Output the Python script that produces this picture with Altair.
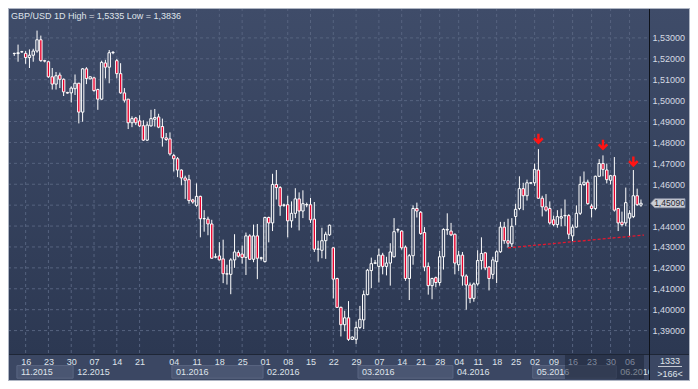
import altair as alt
import pandas as pd

# ---------------- data (daily GBP/USD candles) ----------------
O = [1.5225,1.5225,1.5233,1.5226,1.5206,1.5217,1.5237,1.5291,1.5191,1.5186,
     1.5114,1.5079,1.5122,1.5102,1.5039,1.5037,1.5057,1.5083,1.4945,1.5152,
     1.5104,1.5109,1.5053,1.5007,1.5180,1.5160,1.5229,1.5191,1.5129,1.5037,
     1.5007,1.4894,1.4917,1.4903,1.4880,1.4811,1.4879,1.4911,1.4922,1.4876,
     1.4822,1.4817,1.4737,1.4722,1.4668,1.4630,1.4622,1.4525,1.4499,1.4542,
     1.4435,1.4433,1.4410,1.4251,1.4257,1.4243,1.4172,1.4169,1.4238,1.4273,
     1.4266,1.4250,1.4353,1.4241,1.4353,1.4246,1.4230,1.4441,1.4415,1.4599,
     1.4584,1.4499,1.4502,1.4425,1.4461,1.4530,1.4472,1.4501,1.4502,1.4433,
     1.4289,1.4284,1.4330,1.4358,1.4296,1.4149,1.4011,1.3928,1.3961,1.3858,
     1.3858,1.3915,1.3951,1.4072,1.4187,1.4222,1.4207,1.4261,1.4207,1.4223,
     1.4253,1.4381,1.4376,1.4299,1.4149,1.4258,1.4484,1.4466,1.4369,1.4207,
     1.4115,1.4153,1.4130,1.4253,1.4381,1.4376,1.4361,1.4215,1.4261,1.4161,
     1.4118,1.4054,1.4123,1.4235,1.4272,1.4204,1.4169,1.4230,1.4277,1.4395,
     1.4330,1.4315,1.4446,1.4484,1.4579,1.4545,1.4605,1.4607,1.4668,1.4533,
     1.4492,1.4484,1.4430,1.4407,1.4438,1.4449,1.4450,1.4353,1.4395,1.4461,
     1.4599,1.4610,1.4496,1.4484,1.4638,1.4699,1.4668,1.4619,1.4641,1.4484,
     1.4419,1.4415,1.4438,1.4445,1.4545,1.4500]
H = [1.5229,1.5268,1.5238,1.5237,1.5245,1.5248,1.5335,1.5311,1.5195,1.5191,
     1.5156,1.5137,1.5134,1.5106,1.5042,1.5068,1.5125,1.5085,1.5156,1.5160,
     1.5116,1.5114,1.5057,1.5191,1.5195,1.5242,1.5237,1.5199,1.5179,1.5060,
     1.5007,1.4925,1.4922,1.4930,1.4906,1.4899,1.4956,1.4960,1.4937,1.4914,
     1.4845,1.4848,1.4745,1.4730,1.4671,1.4641,1.4645,1.4530,1.4604,1.4545,
     1.4476,1.4445,1.4430,1.4269,1.4323,1.4335,1.4215,1.4246,1.4361,1.4284,
     1.4307,1.4369,1.4361,1.4407,1.4410,1.4253,1.4445,1.4445,1.4650,1.4668,
     1.4591,1.4507,1.4545,1.4518,1.4581,1.4561,1.4571,1.4512,1.4535,1.4515,
     1.4330,1.4392,1.4373,1.4407,1.4299,1.4153,1.4015,1.3995,1.4041,1.3872,
     1.3943,1.4018,1.4092,1.4195,1.4249,1.4238,1.4292,1.4272,1.4253,1.4318,
     1.4438,1.4389,1.4379,1.4307,1.4266,1.4499,1.4512,1.4472,1.4395,1.4226,
     1.4153,1.4158,1.4281,1.4389,1.4461,1.4415,1.4364,1.4281,1.4276,1.4169,
     1.4130,1.4130,1.4284,1.4346,1.4276,1.4208,1.4253,1.4284,1.4420,1.4420,
     1.4435,1.4438,1.4507,1.4638,1.4607,1.4622,1.4610,1.4699,1.4768,1.4545,
     1.4553,1.4518,1.4450,1.4476,1.4484,1.4527,1.4457,1.4407,1.4499,1.4638,
     1.4661,1.4622,1.4507,1.4641,1.4720,1.4738,1.4699,1.4645,1.4730,1.4487,
     1.4469,1.4584,1.4476,1.4668,1.4579,1.4527]
L = [1.5214,1.5186,1.5229,1.5176,1.5156,1.5186,1.5229,1.5186,1.5183,1.5109,
     1.5053,1.5053,1.5060,1.5022,1.5033,1.4991,1.5027,1.4891,1.4899,1.5079,
     1.5102,1.5042,1.4956,1.5002,1.5106,1.5083,1.5222,1.5106,1.5033,1.4991,
     1.4864,1.4873,1.4883,1.4873,1.4807,1.4807,1.4876,1.4876,1.4868,1.4780,
     1.4807,1.4737,1.4661,1.4634,1.4595,1.4530,1.4507,1.4507,1.4492,1.4346,
     1.4373,1.4356,1.4244,1.4246,1.4236,1.4127,1.4120,1.4074,1.4200,1.4250,
     1.4220,1.4166,1.4238,1.4227,1.4146,1.4235,1.4226,1.4322,1.4376,1.4527,
     1.4449,1.4492,1.4346,1.4392,1.4438,1.4379,1.4438,1.4490,1.4415,1.4276,
     1.4230,1.4246,1.4243,1.4353,1.4054,1.4008,1.3872,1.3897,1.3851,1.3855,
     1.3836,1.3907,1.3907,1.4069,1.4103,1.4218,1.4130,1.4169,1.4164,1.4115,
     1.4250,1.4369,1.4287,1.4138,1.4046,1.4215,1.4441,1.4358,1.4184,1.4072,
     1.4050,1.4107,1.4115,1.4192,1.4358,1.4352,1.4169,1.4184,1.4115,1.4000,
     1.4031,1.4038,1.4115,1.4192,1.4189,1.4092,1.4146,1.4127,1.4272,1.4315,
     1.4297,1.4300,1.4404,1.4476,1.4476,1.4522,1.4602,1.4592,1.4530,1.4446,
     1.4469,1.4407,1.4399,1.4392,1.4399,1.4399,1.4338,1.4327,1.4392,1.4453,
     1.4592,1.4502,1.4441,1.4476,1.4635,1.4638,1.4604,1.4599,1.4469,1.4376,
     1.4398,1.4399,1.4353,1.4438,1.4496,1.4492]
C = [1.5226,1.5229,1.5234,1.5206,1.5217,1.5237,1.5291,1.5191,1.5189,1.5114,
     1.5079,1.5119,1.5102,1.5042,1.5036,1.5060,1.5083,1.4945,1.5152,1.5106,
     1.5114,1.5048,1.5007,1.5183,1.5160,1.5229,1.5231,1.5129,1.5037,1.5002,
     1.4894,1.4914,1.4894,1.4879,1.4811,1.4883,1.4914,1.4919,1.4873,1.4822,
     1.4814,1.4745,1.4722,1.4668,1.4630,1.4619,1.4522,1.4515,1.4542,1.4435,
     1.4436,1.4410,1.4246,1.4253,1.4238,1.4172,1.4170,1.4238,1.4276,1.4256,
     1.4250,1.4353,1.4241,1.4353,1.4246,1.4248,1.4441,1.4415,1.4599,1.4584,
     1.4496,1.4501,1.4425,1.4461,1.4530,1.4472,1.4507,1.4503,1.4430,1.4289,
     1.4290,1.4330,1.4361,1.4404,1.4146,1.4011,1.3928,1.3961,1.3858,1.3869,
     1.3915,1.3954,1.4072,1.4189,1.4220,1.4224,1.4261,1.4207,1.4223,1.4276,
     1.4373,1.4383,1.4296,1.4149,1.4258,1.4484,1.4472,1.4364,1.4204,1.4115,
     1.4149,1.4130,1.4253,1.4384,1.4384,1.4358,1.4223,1.4261,1.4161,1.4118,
     1.4054,1.4123,1.4235,1.4269,1.4200,1.4149,1.4238,1.4277,1.4395,1.4330,
     1.4318,1.4399,1.4480,1.4579,1.4545,1.4607,1.4607,1.4671,1.4533,1.4492,
     1.4476,1.4415,1.4407,1.4445,1.4445,1.4451,1.4361,1.4395,1.4461,1.4599,
     1.4610,1.4507,1.4484,1.4638,1.4699,1.4671,1.4622,1.4641,1.4476,1.4415,
     1.4407,1.4512,1.4461,1.4545,1.4502,1.4509]

# week ticks (bar index of each labelled day) and their labels
week_idx = [3, 9, 15, 21, 27, 33, 42, 48, 54, 60, 66, 72, 78, 84, 90, 96, 102, 107,
            112, 117, 122, 127, 132, 137, 142, 147, 152, 157, 162]
week_lbl = ["16", "23", "30", "07", "14", "21", "04", "11", "18", "25", "01", "08", "15", "22",
            "29", "07", "14", "21", "28", "04", "11", "18", "25", "02", "09", "16", "23", "30", "06"]

# months (bar index where each month begins)
month_start = [0.7, 15.5, 41.5, 65.5, 90.5, 115.5, 136.5, 158.5]
month_names = ["11.2015", "12.2015", "01.2016", "02.2016", "03.2016", "04.2016", "05.2016", "06.2016"]
month_boxed = [True, False, True, False, True, False, True, False]

# price grid / labels
grid_prices = [1.39, 1.40, 1.41, 1.42, 1.43, 1.44, 1.45, 1.46, 1.47, 1.48, 1.49, 1.50, 1.51, 1.52, 1.53]
label_prices = [p for p in grid_prices if p != 1.45]

# annotations
arrow_idx = [138, 155, 163]
arrow_price = [1.4815, 1.4786, 1.4706]
trend_idx = [130, 165.8]
trend_price = [1.4296, 1.4357]
current_price = 1.4509
sel_range = [145, 165.8]
x_domain = [-0.33, 165.8]
y_domain = [1.3788, 1.5443]

assert len(O) == len(H) == len(L) == len(C) == 166

# ---------------- layout ----------------
FONT = "Liberation Sans"
W, PH = 641, 346
RIGHT, BOTTOM = 41, 27
TW, TH = W + RIGHT, PH + BOTTOM
TXT = "#dfe3ea"

n = len(C)
df = pd.DataFrame({"i": list(range(n)), "o": O, "h": H, "l": L, "c": C})
df["top"] = df[["o", "c"]].max(axis=1)
df["bot"] = df[["o", "c"]].min(axis=1)
df["h"] = df[["h", "top"]].max(axis=1)
df["l"] = df[["l", "bot"]].min(axis=1)
df["up"] = df["c"] >= df["o"]

xs = alt.Scale(domain=x_domain, nice=False, zero=False)
ys = alt.Scale(domain=y_domain, nice=False, zero=False)
one = pd.DataFrame({"k": [0]})

label_expr = " : ".join(f"datum.value == {i} ? '{t}'" for i, t in zip(week_idx, week_lbl)) + " : ''"
XA = alt.Axis(
    values=week_idx, labelExpr=label_expr, domain=False, ticks=False, grid=False, title=None,
    labelFont=FONT, labelFontSize=9, labelPadding=3.5, labelOverlap=False, labelFlush=False,
    labelColor={"condition": {"test": f"datum.value >= {sel_range[0]}", "value": "#7f889c"}, "value": TXT},
    zindex=1)
YA = alt.Axis(
    orient="right", values=label_prices,
    labelExpr="replace(format(datum.value, '.5f'), '.', ',')",
    domain=False, ticks=False, grid=False, title=None, labelFont=FONT,
    labelFontSize=9, labelColor="#d5dae3", labelPadding=3, labelOverlap=False, zindex=1)


def X(f):
    return alt.X(f, scale=xs, axis=XA)


def Y(f):
    return alt.Y(f, scale=ys, axis=YA)


bg = alt.Chart(one).mark_rect(
    color=alt.LinearGradient(
        gradient="linear",
        stops=[alt.GradientStop(color="#3f4c69", offset=0), alt.GradientStop(color="#2c3852", offset=1)],
        x1=0, x2=0, y1=0, y2=1)
).encode(x=alt.value(0), x2=alt.value(TW), y=alt.value(0), y2=alt.value(PH))

strip = alt.Chart(one).mark_rect(color="#3b4763").encode(
    x=alt.value(0), x2=alt.value(TW), y=alt.value(PH), y2=alt.value(TH))

hgrid = alt.Chart(pd.DataFrame({"p": grid_prices})).mark_rule(
    color="#56637f", strokeDash=[3, 3], strokeWidth=1
).encode(y=Y("p:Q"), x=alt.value(0), x2=alt.value(W))

vgrid = alt.Chart(pd.DataFrame({"w": week_idx})).mark_rule(
    color="#56637f", strokeDash=[3, 3], strokeWidth=1
).encode(x=X("w:Q"), y=alt.value(0), y2=alt.value(PH))

base = alt.Chart(df)
wick_up = base.mark_rule(color="white", strokeWidth=1).encode(x=X("i:Q"), y=Y("h:Q"), y2="top:Q")
wick_dn = base.mark_rule(color="white", strokeWidth=1).encode(x=X("i:Q"), y=Y("bot:Q"), y2="l:Q")
bull = alt.Chart(df[df["up"]]).mark_bar(size=2.4, fillOpacity=0, stroke="white", strokeWidth=1).encode(
    x=X("i:Q"), y=Y("top:Q"), y2="bot:Q")
bear = alt.Chart(df[~df["up"]]).mark_bar(size=2.4, fill="#e8002c", stroke="white", strokeWidth=1).encode(
    x=X("i:Q"), y=Y("top:Q"), y2="bot:Q")

trend = alt.Chart(pd.DataFrame({"i": trend_idx, "p": trend_price})).mark_line(
    color="#e6182f", strokeDash=[3, 2], strokeWidth=1.3).encode(x=X("i:Q"), y=Y("p:Q"))

ARROW = "M-0.22,-1 L0.22,-1 L0.22,0.05 L0.62,-0.35 L0.95,-0.02 L0,0.95 L-0.95,-0.02 L-0.62,-0.35 L-0.22,0.05 Z"
arrows = alt.Chart(pd.DataFrame({"i": arrow_idx, "p": arrow_price})).mark_point(
    shape=ARROW, filled=True, size=121, color="#ff1414", opacity=1, strokeWidth=0
).encode(x=X("i:Q"), y=Y("p:Q"))

mdf = pd.DataFrame({"s": month_start, "e": month_start[1:] + [x_domain[1]], "t": month_names, "box": month_boxed})
boxes = alt.Chart(mdf[mdf["box"]]).mark_rect(fill="#4a5672", stroke="#5a6682", strokeWidth=1).encode(
    x=X("s:Q"), x2="e:Q", y=alt.value(357.6), y2=alt.value(370.2))
mtext = alt.Chart(mdf).mark_text(align="left", baseline="middle", dx=4, font=FONT, fontSize=9, color=TXT).encode(
    x=X("s:Q"), y=alt.value(364), text="t:N")

overlay = alt.Chart(pd.DataFrame({"a": [sel_range[0]], "b": [sel_range[1]]})).mark_rect(
    color="#1a2234", opacity=0.5).encode(x=X("a:Q"), x2="b:Q", y=alt.value(347), y2=alt.value(371))

rcover = alt.Chart(one).mark_rect(color="#3b4763").encode(
    x=alt.value(W + 0.5), x2=alt.value(TW), y=alt.value(PH), y2=alt.value(TH))
sep = alt.Chart(one).mark_rule(color="#1e2636", strokeWidth=1).encode(
    x=alt.value(0), x2=alt.value(TW), y=alt.value(PH + 0.5))
vline = alt.Chart(one).mark_rule(color="#0e121a", strokeWidth=1).encode(
    x=alt.value(W + 0.5), y=alt.value(0), y2=alt.value(TH))

TAG = "M-1,0 L-0.76,-0.26 L1,-0.26 L1,0.26 L-0.76,0.26 Z"
cdf = pd.DataFrame({"p": [current_price], "t": [f"{current_price:.5f}".replace(".", ",")]})
tag = alt.Chart(cdf).mark_point(shape=TAG, filled=True, size=1183, fill="#c9cdd5", stroke="#8e96a8",
                                strokeWidth=0.8, opacity=1).encode(x=alt.value(659.8), y=Y("p:Q"))
tagtext = alt.Chart(cdf).mark_text(font=FONT, fontSize=8.5, color="#1e2430", baseline="middle").encode(
    x=alt.value(661.5), y=Y("p:Q"), text="t:N")

t1333 = alt.Chart(one).mark_text(text="1333", font=FONT, fontSize=9, color=TXT, baseline="middle").encode(
    x=alt.value(662), y=alt.value(352.5))
uline = alt.Chart(one).mark_rule(color="#c4c9d3", strokeWidth=1).encode(
    x=alt.value(650), x2=alt.value(674), y=alt.value(358.5))
tbars = alt.Chart(one).mark_text(text=f">{n}<", font=FONT, fontSize=9, color=TXT, baseline="middle").encode(
    x=alt.value(662), y=alt.value(365.5))

title_txt = "GBP/USD 1D High = {} Low = {}".format(
    f"{max(H):.4f}".replace(".", ","), f"{min(L):.4f}".replace(".", ","))
title = alt.Chart(one).mark_text(text=title_txt, font=FONT, fontSize=9, color=TXT, align="left",
                                 baseline="middle").encode(x=alt.value(3), y=alt.value(7.5))

FR = "#aeb5c3"
f_top = alt.Chart(one).mark_rule(color=FR).encode(x=alt.value(0), x2=alt.value(TW), y=alt.value(0.5))
f_bot = alt.Chart(one).mark_rule(color=FR).encode(x=alt.value(0), x2=alt.value(TW), y=alt.value(TH - 0.5))
f_left = alt.Chart(one).mark_rule(color=FR).encode(x=alt.value(0.5), y=alt.value(0), y2=alt.value(TH))
f_right = alt.Chart(one).mark_rule(color=FR).encode(x=alt.value(TW - 0.5), y=alt.value(0), y2=alt.value(TH))

chart = alt.layer(
    bg, strip, hgrid, vgrid, wick_up, wick_dn, bull, bear, trend, arrows,
    boxes, mtext, overlay, rcover, sep, vline, tag, tagtext, t1333, uline, tbars, title,
    f_top, f_bot, f_left, f_right
).properties(
    width=W, height=PH,
    padding={"left": 0, "top": 0, "right": RIGHT, "bottom": BOTTOM},
    autosize=alt.AutoSizeParams(type="none"),
).configure_view(strokeWidth=0)

chart.save("out.html", embed_options={"renderer": "svg", "actions": False})
